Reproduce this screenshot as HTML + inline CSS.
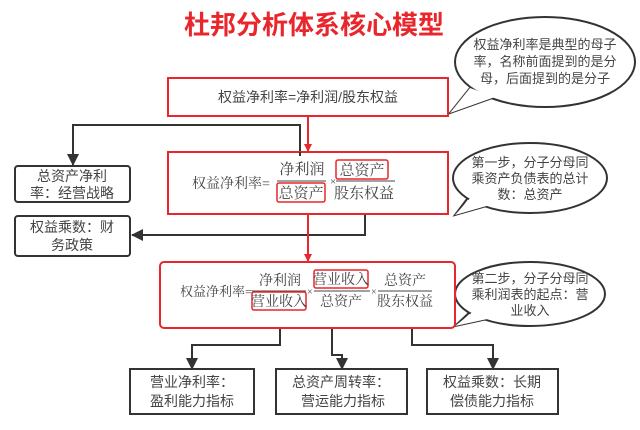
<!DOCTYPE html>
<html><head><meta charset="utf-8"><style>
body{margin:0;background:#fff;}
svg text{font-family:"Liberation Sans","Noto Sans CJK SC",sans-serif;}
.s{font-family:"Liberation Serif","Noto Serif CJK SC",serif !important;}
</style></head><body>
<svg width="640" height="425" viewBox="0 0 640 425" xmlns="http://www.w3.org/2000/svg">
<defs>
<marker id="ar" markerWidth="8" markerHeight="8" refX="7" refY="4" orient="auto" markerUnits="userSpaceOnUse"><path d="M0,0 L8,4 L0,8 z" fill="#e8262b"/></marker>
<marker id="ab" markerWidth="12" markerHeight="12" refX="11" refY="6" orient="auto" markerUnits="userSpaceOnUse"><path d="M0,0 L12,6 L0,12 z" fill="#333"/></marker>
</defs>
<text x="314" y="34" text-anchor="middle" font-size="26" font-weight="bold" fill="#e8262b">杜邦分析体系核心模型</text>

<!-- callouts -->
<path d="M470,88 L450,113 L495,97" fill="#fff" stroke="#333" stroke-width="2"/>
<ellipse cx="545" cy="62" rx="90" ry="45" fill="#fff" stroke="#333" stroke-width="2"/>
<path d="M470,88 L450,113 L495,97" fill="#fff" stroke="none"/>
<text font-size="13" fill="#444" text-anchor="middle"><tspan x="545" y="49">权益净利率是典型的母子</tspan><tspan x="545" y="66">率，名称前面提到的是分</tspan><tspan x="545" y="83">母，后面提到的是分子</tspan></text>

<path d="M470,195 L455,215 L490,205" fill="#fff" stroke="#333" stroke-width="2"/>
<ellipse cx="530" cy="178" rx="77" ry="35" fill="#fff" stroke="#333" stroke-width="2"/>
<path d="M472,196 L455,215 L490,205" fill="#fff" stroke="none"/>
<text font-size="13" fill="#444" text-anchor="middle"><tspan x="530" y="167">第一步，分子分母同</tspan><tspan x="530" y="183">乘资产负债表的总计</tspan><tspan x="530" y="199">数：总资产</tspan></text>

<path d="M472,310 L455,326 L492,318" fill="#fff" stroke="#333" stroke-width="2"/>
<ellipse cx="530" cy="294" rx="75" ry="32" fill="#fff" stroke="#333" stroke-width="2"/>
<path d="M474,311 L455,326 L492,318" fill="#fff" stroke="none"/>
<text font-size="13" fill="#444" text-anchor="middle"><tspan x="530" y="283">第二步，分子分母同</tspan><tspan x="530" y="299">乘利润表的起点：营</tspan><tspan x="530" y="315">业收入</tspan></text>

<!-- black connectors -->
<path d="M300,155 V125 H73 V165" fill="none" stroke="#333" stroke-width="2" marker-end="url(#ab)"/>
<path d="M365,213 V235 H132" fill="none" stroke="#333" stroke-width="2" marker-end="url(#ab)"/>
<path d="M280,328 V345 H192 V369" fill="none" stroke="#333" stroke-width="2" marker-end="url(#ab)"/>
<path d="M332,328 V355 H342 V369" fill="none" stroke="#333" stroke-width="2" marker-end="url(#ab)"/>
<path d="M412,328 V345 H493 V369" fill="none" stroke="#333" stroke-width="2" marker-end="url(#ab)"/>

<!-- red arrows -->
<path d="M308,116 V151" stroke="#e8262b" stroke-width="2" marker-end="url(#ar)"/>
<path d="M308,214 V261" stroke="#e8262b" stroke-width="2" marker-end="url(#ar)"/>

<!-- box1 -->
<rect x="168" y="78" width="280" height="38" fill="#fff" stroke="#e8262b" stroke-width="2"/>
<text x="308" y="102" text-anchor="middle" font-size="14" fill="#444">权益净利率=净利润/股东权益</text>

<!-- box2 -->
<rect x="168" y="152" width="280" height="62" fill="#fff" stroke="#e8262b" stroke-width="2"/>
<line x1="300" y1="152" x2="300" y2="156" stroke="#333" stroke-width="2"/>
<g class="s" fill="#444">
<text x="192" y="188" font-size="14" class="s">权益净利率=</text>
<text x="302" y="174" text-anchor="middle" font-size="15" class="s">净利润</text>
<line x1="277" y1="181" x2="326" y2="181" stroke="#444"/>
<rect x="277" y="183" width="48" height="19" fill="none" stroke="#e8262b" stroke-width="1.5" rx="2"/>
<text x="301" y="198" text-anchor="middle" font-size="15" class="s">总资产</text>
<text x="330" y="185" font-size="11" class="s">×</text>
<rect x="336" y="160" width="52" height="19" fill="none" stroke="#e8262b" stroke-width="1.5" rx="2"/>
<text x="362" y="175" text-anchor="middle" font-size="15" class="s">总资产</text>
<line x1="336" y1="181" x2="395" y2="181" stroke="#444"/>
<text x="364" y="198" text-anchor="middle" font-size="15" class="s">股东权益</text>
</g>

<!-- box3 -->
<rect x="160" y="262" width="295" height="66" fill="#fff" stroke="#e8262b" stroke-width="2" rx="4"/>
<g fill="#444">
<text x="180" y="296" font-size="13" class="s">权益净利率=</text>
<text x="280" y="285" text-anchor="middle" font-size="14" class="s">净利润</text>
<line x1="252" y1="291" x2="306" y2="291" stroke="#444"/>
<rect x="252" y="292" width="54" height="18" fill="none" stroke="#e8262b" stroke-width="1.5" rx="2"/>
<text x="279" y="306" text-anchor="middle" font-size="14" class="s">营业收入</text>
<text x="307" y="295" font-size="10" class="s">×</text>
<rect x="314" y="270" width="54" height="18" fill="none" stroke="#e8262b" stroke-width="1.5" rx="2"/>
<text x="341" y="284" text-anchor="middle" font-size="14" class="s">营业收入</text>
<line x1="314" y1="291" x2="370" y2="291" stroke="#444"/>
<text x="341" y="306" text-anchor="middle" font-size="14" class="s">总资产</text>
<text x="371" y="295" font-size="10" class="s">×</text>
<text x="405" y="285" text-anchor="middle" font-size="14" class="s">总资产</text>
<line x1="378" y1="291" x2="432" y2="291" stroke="#444"/>
<text x="405" y="306" text-anchor="middle" font-size="14" class="s">股东权益</text>
</g>

<!-- left boxes -->
<rect x="15" y="166" width="115" height="36" fill="#fff" stroke="#333" stroke-width="2" rx="3"/>
<text font-size="14" fill="#444" text-anchor="middle"><tspan x="72" y="181">总资产净利</tspan><tspan x="72" y="198">率：经营战略</tspan></text>
<rect x="15" y="216" width="115" height="40" fill="#fff" stroke="#333" stroke-width="2" rx="3"/>
<text font-size="14" fill="#444" text-anchor="middle"><tspan x="72" y="232">权益乘数：财</tspan><tspan x="72" y="250">务政策</tspan></text>

<!-- bottom boxes -->
<rect x="130" y="369" width="124" height="45" fill="#fff" stroke="#333" stroke-width="2"/>
<text font-size="14" fill="#444" text-anchor="middle"><tspan x="192" y="387">营业净利率：</tspan><tspan x="192" y="406">盈利能力指标</tspan></text>
<rect x="276" y="369" width="131" height="45" fill="#fff" stroke="#333" stroke-width="2"/>
<text font-size="14" fill="#444" text-anchor="middle"><tspan x="341" y="387">总资产周转率：</tspan><tspan x="343" y="406">营运能力指标</tspan></text>
<rect x="427" y="369" width="131" height="45" fill="#fff" stroke="#333" stroke-width="2"/>
<text font-size="14" fill="#444" text-anchor="middle"><tspan x="492" y="387">权益乘数：长期</tspan><tspan x="492" y="406">偿债能力指标</tspan></text>
</svg>
</body></html>
